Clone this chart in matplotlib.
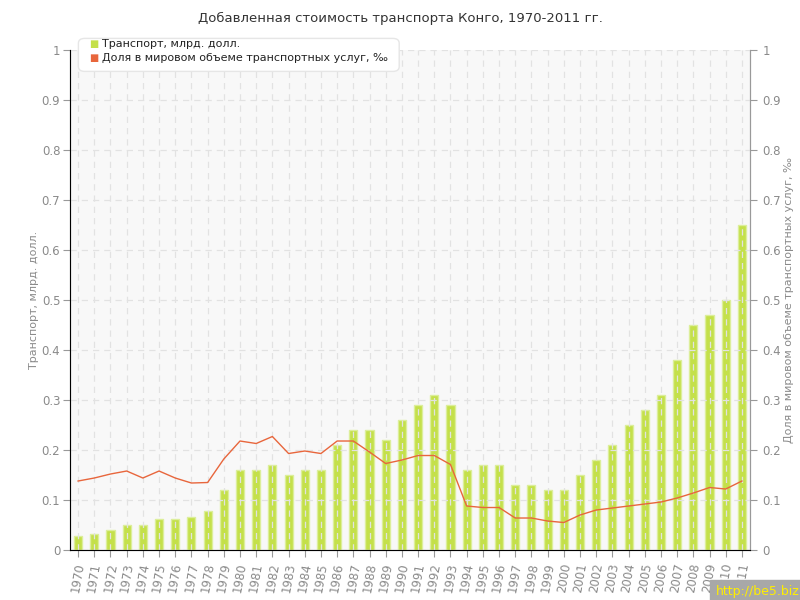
import matplotlib.pyplot as plt
import numpy as np
from matplotlib.patches import FancyBboxPatch

years = list(range(1970, 2012))
transport = [0.028, 0.033, 0.04, 0.05, 0.051, 0.063, 0.062, 0.066, 0.079, 0.12,
             0.16, 0.16, 0.17, 0.15, 0.16, 0.16, 0.21, 0.24, 0.24, 0.22,
             0.26, 0.29, 0.31, 0.29, 0.16, 0.17, 0.17, 0.13, 0.13, 0.12,
             0.12, 0.15, 0.18, 0.21, 0.25, 0.28, 0.31, 0.38, 0.45, 0.47,
             0.50, 0.65]
share = [0.138, 0.144, 0.152, 0.158, 0.144, 0.158, 0.144, 0.134, 0.135, 0.182,
         0.218, 0.213, 0.227, 0.193, 0.198, 0.193, 0.218, 0.218, 0.196, 0.173,
         0.180, 0.189, 0.189, 0.171, 0.088, 0.085, 0.085, 0.064, 0.064, 0.058,
         0.055, 0.070, 0.080, 0.084, 0.088, 0.092, 0.096, 0.104, 0.114, 0.125,
         0.122, 0.138]
yticks = [0, 0.1, 0.2, 0.3, 0.4, 0.5, 0.6, 0.7, 0.8, 0.9, 1]
ytick_labels = ['0', '0.1', '0.2', '0.3', '0.4', '0.5', '0.6', '0.7', '0.8', '0.9', '1']

bar_color = '#c4e04a'
line_color = '#e8663c'
txt_gray = '#8a8a8a'

fig = plt.figure(figsize=(8, 6), dpi=100)
# plot area: x 70..750 px, y 50..550 px
ax = fig.add_axes([0.0875, 0.0833, 0.85, 0.8334])
ax.set_facecolor('#f8f8f8')

x = np.arange(len(years))
ax.bar(x, transport, width=0.5, color=bar_color, edgecolor='#dcee9a', linewidth=1, zorder=1)
ax.plot(x, share, color=line_color, linewidth=1, zorder=3)

ax.set_xlim(-0.5, 41.5)
ax.set_ylim(0, 1)
ax.set_xticks(x)
ax.set_xticklabels([str(y) for y in years], rotation=80, fontsize=8.5, color=txt_gray)
ax.set_yticks(yticks)
ax.set_yticklabels(ytick_labels, fontsize=8.5, color=txt_gray)
ax.grid(True, color='#e2e2e2', linestyle=(0, (5, 4)), linewidth=0.9)
ax.set_axisbelow(False)
ax.spines['top'].set_visible(False)
for s in ['left', 'bottom', 'right']:
    ax.spines[s].set_color('#999999')
ax.tick_params(axis='both', colors='#999999', length=5, labelcolor=txt_gray)
ax.tick_params(axis='y', pad=2)
ax.set_ylabel('Транспорт, млрд. долл.', fontsize=8, color=txt_gray, labelpad=2)

ax2 = ax.twinx()
ax2.set_ylim(0, 1)
ax2.set_yticks(yticks)
ax2.set_yticklabels(ytick_labels, fontsize=8.5, color=txt_gray)
ax2.tick_params(axis='y', colors='#999999', length=5, labelcolor=txt_gray, pad=4)
ax2.spines['top'].set_visible(False)
ax2.spines['right'].set_color('#999999')
ax2.set_ylabel('Доля в мировом объеме транспортных услуг, ‰', fontsize=8,
               color=txt_gray, rotation=90, labelpad=2)

fig.text(0.5, 0.97, 'Добавленная стоимость транспорта Конго, 1970-2011 гг.',
         ha='center', va='center', fontsize=9.5, color='#333333')

# legend box
box = FancyBboxPatch((0.102, 0.885), 0.393, 0.047, boxstyle='round,pad=0.004,rounding_size=0.008',
                     transform=fig.transFigure, facecolor='white', edgecolor='#e6e6e6',
                     linewidth=1, zorder=10)
fig.patches.append(box)
fig.text(0.111, 0.927, '■', color=bar_color, fontsize=7, va='center', zorder=11)
fig.text(0.128, 0.927, 'Транспорт, млрд. долл.', fontsize=8, color='#222222', va='center', zorder=11)
fig.text(0.111, 0.903, '■', color=line_color, fontsize=7, va='center', zorder=11)
fig.text(0.128, 0.903, 'Доля в мировом объеме транспортных услуг, ‰', fontsize=8,
         color='#222222', va='center', zorder=11)

fig.text(0.999, 0.003, 'http://be5.biz', ha='right', va='bottom', fontsize=9,
         color='#ffee00', backgroundcolor='#a8a8a8')

fig.savefig('out.png', dpi=100)
